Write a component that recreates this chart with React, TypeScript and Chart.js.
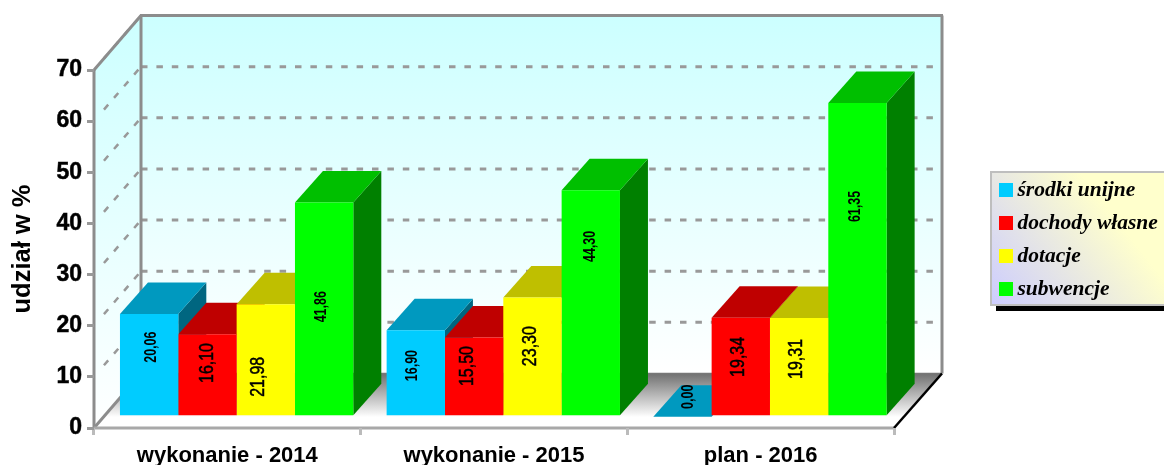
import React, { useEffect, useRef } from "react";
import { Chart, registerables } from "chart.js";

Chart.register(...registerables);

const categories = ["wykonanie - 2014", "wykonanie - 2015", "plan - 2016"];
const seriesNames = ["środki unijne", "dochody własne", "dotacje", "subwencje"];
const srodkiUnijne = [20.06, 16.9, 0.0];
const dochodyWlasne = [16.1, 15.5, 19.34];
const dotacje = [21.98, 23.3, 19.31];
const subwencje = [41.86, 44.3, 61.35];
const yTicks = [0, 10, 20, 30, 40, 50, 60, 70];

// styling
const front = ["#00CCFF", "#FF0000", "#FFFF00", "#00FF00"];
const topFace = ["#0099BF", "#BF0000", "#BFBF00", "#00BF00"];
const sideFace = ["#006680", "#800000", "#808000", "#008000"];
// value-label placement (manually placed in the reference): scale position, x shift, large font?
const labelAt = [
  [13.6, 10, 3.9],
  [10.5, 9.9, 11.7],
  [7.8, 13.8, 11.3],
  [21.5, 33.3, 41.1],
];
const labelDx = [
  [2.8, -2.9, 6.4],
  [0.4, -6.6, -2],
  [-7, -1.7, -2.4],
  [-2.7, 0, -1.8],
];
const labelBig = [
  [false, false, false],
  [true, true, true],
  [true, true, true],
  [false, false, false],
];

const WALL_DX = 47;
const WALL_DY = 54.5;
const PLANE_DX = 9.3;
const PLANE_DY = 11.3;
const BAR_DX = 28;
const BAR_DY = 31.5;
const SANS = '"Liberation Sans", Arial, sans-serif';
const SERIF = '"Liberation Serif", "Times New Roman", serif';

function poly(ctx: CanvasRenderingContext2D, pts: number[][], fill: string | CanvasGradient) {
  ctx.beginPath();
  pts.forEach((p, i) => (i ? ctx.lineTo(p[0], p[1]) : ctx.moveTo(p[0], p[1])));
  ctx.closePath();
  ctx.fillStyle = fill;
  ctx.fill();
}

function line(ctx: CanvasRenderingContext2D, a: number[], b: number[], color: string, w: number) {
  ctx.beginPath();
  ctx.moveTo(a[0], a[1]);
  ctx.lineTo(b[0], b[1]);
  ctx.strokeStyle = color;
  ctx.lineWidth = w;
  ctx.stroke();
}

const wallsPlugin = {
  id: "walls",
  beforeDraw(chart: any) {
    const { ctx, chartArea: a, scales } = chart;
    const y = scales.y;
    const L = a.left, R = a.right, T = y.getPixelForValue(70), B = y.getPixelForValue(0);
    const bL = L + WALL_DX, bR = R + WALL_DX + 1, bT = T - WALL_DY, bB = B - WALL_DY;
    ctx.save();
    const wall = ctx.createLinearGradient(0, bT, 0, bB);
    wall.addColorStop(0, "#CCFFFF");
    wall.addColorStop(1, "#FFFFFF");
    poly(ctx, [[bL, bT], [bR, bT], [bR, bB], [bL, bB]], wall);
    const side = ctx.createLinearGradient(0, bT, 0, B);
    side.addColorStop(0, "#CCFFFF");
    side.addColorStop(1, "#FFFFFF");
    poly(ctx, [[L, T], [bL, bT], [bL, bB], [L, B]], side);
    const floor = ctx.createLinearGradient(0, bB, 0, B);
    floor.addColorStop(0, "#707070");
    floor.addColorStop(0.8, "#FFFFFF");
    floor.addColorStop(1, "#FFFFFF");
    poly(ctx, [[L, B], [bL, bB], [bR, bB], [R, B]], floor);

    ctx.lineCap = "butt";
    for (const v of yTicks) {
      if (v === 0) continue;
      const py = y.getPixelForValue(v);
      ctx.setLineDash([6.5, 8.9]);
      ctx.lineDashOffset = 0;
      line(ctx, [bL, py - WALL_DY], [R + WALL_DX - 8, py - WALL_DY], "#999999", 3);
      ctx.lineDashOffset = -4;
      line(ctx, [bL, py - WALL_DY], [L + 8.5, py - 9.9], "#999999", 2.5);
      ctx.setLineDash([]);
    }
    const g = "#8C8C8C";
    line(ctx, [bL, bT], [bL, bB], g, 3);
    line(ctx, [bL - 1, bT], [bR + 1, bT], g, 3);
    line(ctx, [bR, bT], [bR, bB], g, 3);
    line(ctx, [L, T], [bL, bT], g, 3);
    line(ctx, [L, T], [L, B], g, 3);
    line(ctx, [L, B], [bL, bB], g, 3);
    line(ctx, [bL, bB], [bR, bB], "#777777", 1.5);
    line(ctx, [L, B], [R, B], "#A8A8A8", 3);
    line(ctx, [R, B], [bR, bB], "#000000", 2.5);
    ctx.restore();
  },
  beforeDatasetsDraw(chart: any) {
    const ctx = chart.ctx;
    ctx.save();
    ctx.translate(PLANE_DX, -PLANE_DY);
    // top and side faces, painted left to right; the library then paints the fronts above them
    categories.forEach((_, j) => {
      chart.data.datasets.forEach((_d: any, i: number) => {
        const el = chart.getDatasetMeta(i).data[j];
        const l = el.x - el.width / 2, r = el.x + el.width / 2;
        const t = el.y, b = el.base;
        if (b - t > 0.5) {
          poly(ctx, [[r, t], [r + BAR_DX, t - BAR_DY], [r + BAR_DX, b - BAR_DY], [r, b]], sideFace[i]);
        }
        poly(ctx, [[l, t], [l + BAR_DX, t - BAR_DY], [r + BAR_DX, t - BAR_DY], [r, t]], topFace[i]);
      });
    });
  },
  afterDatasetsDraw(chart: any) {
    const ctx = chart.ctx;
    const y = chart.scales.y;
    chart.data.datasets.forEach((d: any, i: number) => {
      d.data.forEach((v: number, j: number) => {
        const el = chart.getDatasetMeta(i).data[j];
        const big = labelBig[i][j];
        ctx.save();
        ctx.translate(el.x + labelDx[i][j], y.getPixelForValue(labelAt[i][j]));
        ctx.rotate(-Math.PI / 2);
        ctx.scale(big ? 0.8 : 0.78, 1);
        ctx.font = `${big ? "" : "bold "}${big ? 20 : 16}px ${SANS}`;
        ctx.fillStyle = "#000";
        ctx.strokeStyle = "#000";
        ctx.lineWidth = 0.5;
        ctx.textAlign = "center";
        ctx.textBaseline = "middle";
        const text = v.toFixed(2).replace(".", ",");
        ctx.fillText(text, 0, 0);
        if (big) ctx.strokeText(text, 0, 0);
        ctx.restore();
      });
    });
    ctx.restore();
  },
  afterDraw(chart: any) {
    const ctx = chart.ctx;
    ctx.save();
    const x = 991, yTop = 172, w = 180, h = 133;
    ctx.fillStyle = "#000";
    ctx.fillRect(x + 5, yTop + 5, w, h + 1);
    const grad = ctx.createLinearGradient(x, yTop + h, x + 120, yTop + 40);
    grad.addColorStop(0, "#CCCCFF");
    grad.addColorStop(1, "#FFFFCC");
    ctx.fillStyle = grad;
    ctx.fillRect(x, yTop, w, h);
    ctx.strokeStyle = "#BEBEBE";
    ctx.lineWidth = 2;
    ctx.strokeRect(x, yTop, w, h);
    seriesNames.forEach((name, i) => {
      const cy = 190 + i * 33;
      ctx.fillStyle = front[i];
      ctx.fillRect(999, cy - 7, 14, 14);
      ctx.fillStyle = "#000";
      ctx.font = `italic bold 21.5px ${SERIF}`;
      ctx.textAlign = "left";
      ctx.textBaseline = "middle";
      ctx.fillText(name, 1017.5, cy);
    });
    ctx.restore();
  },
};

export default function App() {
  const ref = useRef<HTMLCanvasElement>(null);
  useEffect(() => {
    const values = [srodkiUnijne, dochodyWlasne, dotacje, subwencje];
    const chart = new Chart(ref.current!, {
      type: "bar",
      data: {
        labels: categories,
        datasets: seriesNames.map((label, i) => ({
          label,
          data: values[i],
          backgroundColor: front[i],
          borderWidth: 0,
          categoryPercentage: 0.875,
          barPercentage: 1,
          clip: false as any,
        })),
      },
      plugins: [wallsPlugin],
      options: {
        responsive: false,
        animation: false,
        layout: { padding: { left: 8, top: 70, right: 270, bottom: 0 } },
        plugins: { legend: { display: false }, tooltip: { enabled: false } },
        scales: {
          x: {
            afterFit: (s: any) => { s.height = 37; },
            border: { display: false },
            grid: { drawOnChartArea: false, drawTicks: true, tickLength: 7, color: "#BBBBBB", lineWidth: 3 },
            ticks: {
              color: "#000",
              padding: 8,
              maxRotation: 0,
              autoSkip: false,
              font: { family: SANS, size: 22, weight: "bold" },
            },
          },
          y: {
            min: 0,
            max: 70,
            afterFit: (s: any) => { s.width = 86; },
            afterBuildTicks: (s: any) => { s.ticks = yTicks.map((value) => ({ value })); },
            border: { display: false },
            grid: { drawOnChartArea: false, drawTicks: true, tickLength: 7, color: "#999999", lineWidth: 3 },
            ticks: {
              color: "#000",
              padding: 5,
              textStrokeColor: "#000",
              textStrokeWidth: 0.5,
              font: { family: SANS, size: 23, weight: "bold" },
            },
            title: {
              display: true,
              text: "udział w %",
              color: "#000",
              padding: 0,
              font: { family: SANS, size: 25.5, weight: "bold" },
            },
          },
        },
      },
    } as any);
    return () => chart.destroy();
  }, []);
  return (
    <canvas
      ref={ref}
      width={1164}
      height={465}
      style={{ position: "absolute", left: 0, top: 0, display: "block", background: "#fff" }}
    />
  );
}
